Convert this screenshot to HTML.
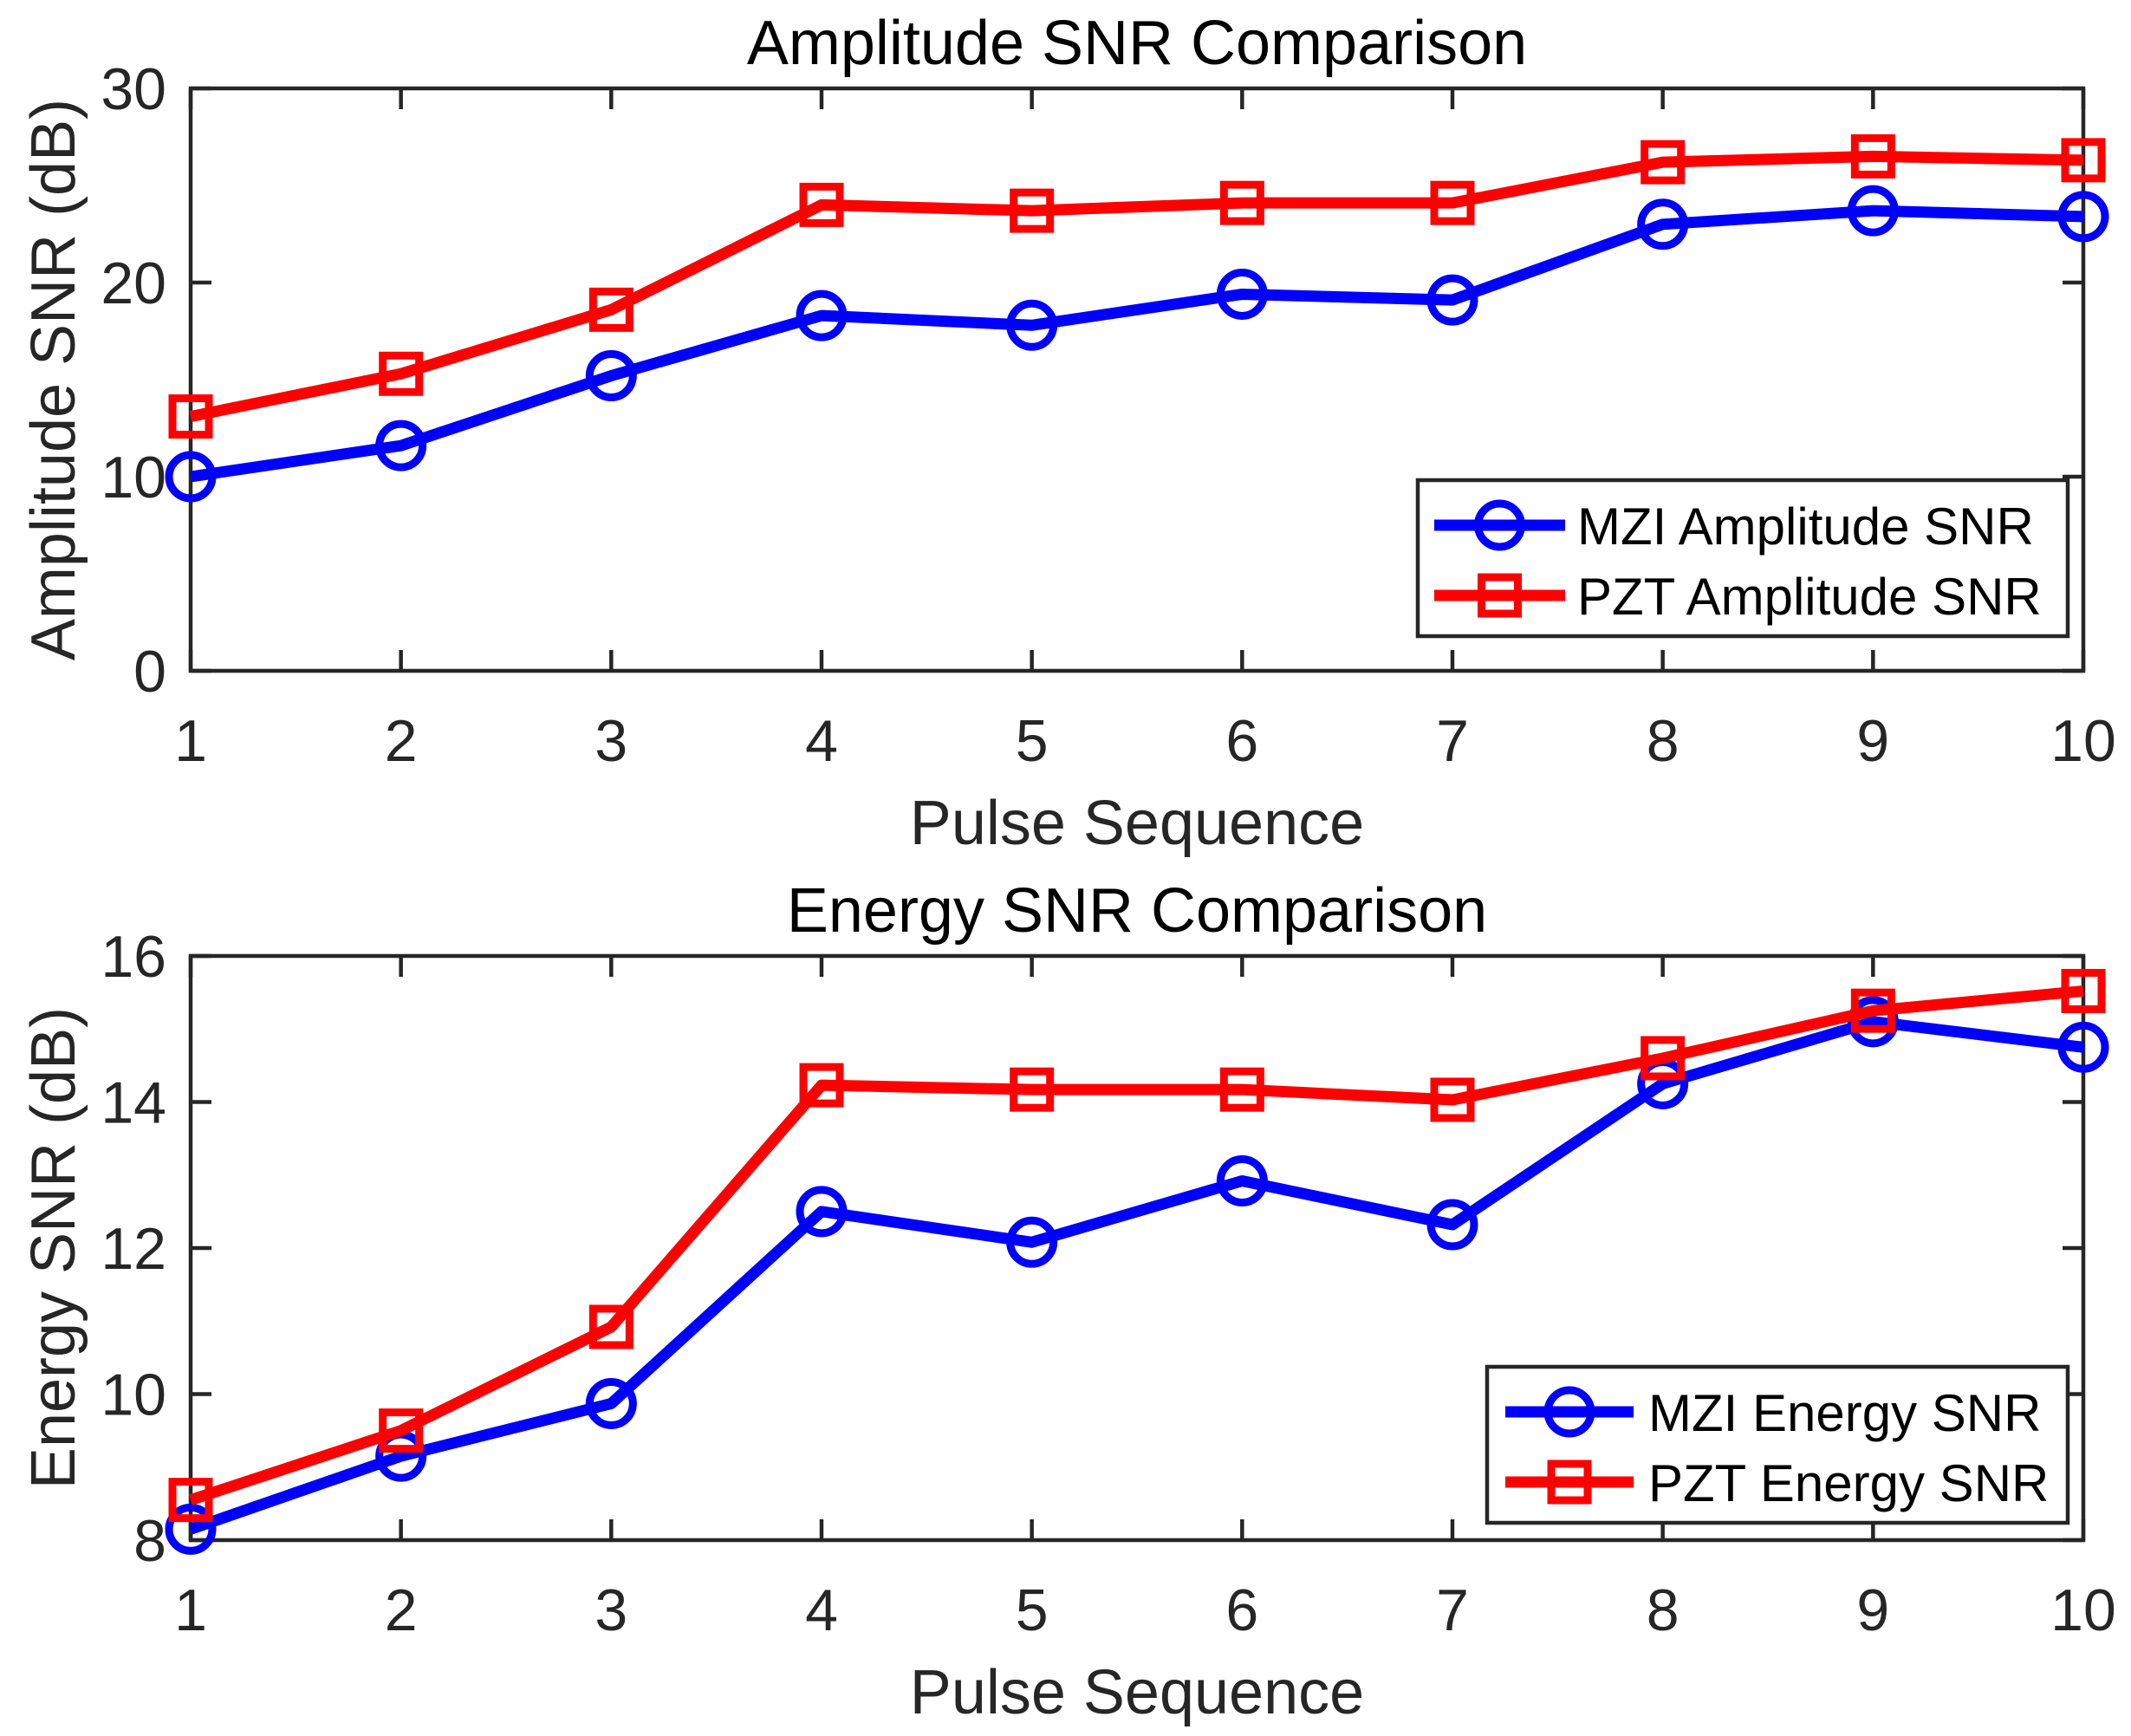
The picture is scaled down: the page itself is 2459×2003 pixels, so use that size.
<!DOCTYPE html>
<html><head><meta charset="utf-8"><style>
html,body{margin:0;padding:0;background:#fff;}
svg{display:block;font-family:"Liberation Sans",sans-serif;}
</style></head><body>
<svg id="chart" width="2459" height="2003" viewBox="0 0 2459 2003" xmlns="http://www.w3.org/2000/svg"></svg>
<script>
const categories = [1,2,3,4,5,6,7,8,9,10];
const ampMZI = [10.0, 11.6, 15.2, 18.3, 17.8, 19.4, 19.1, 23.0, 23.7, 23.4];
const ampPZT = [13.1, 15.3, 18.6, 24.0, 23.7, 24.1, 24.1, 26.2, 26.5, 26.3];
const engMZI = [8.15, 9.15, 9.87, 12.5, 12.08, 12.92, 12.32, 14.25, 15.1, 14.75];
const engPZT = [8.55, 9.5, 10.92, 14.23, 14.17, 14.17, 14.03, 14.6, 15.25, 15.52];
const ampTicks = [0, 10, 20, 30];
const engTicks = [8, 10, 12, 14, 16];

const NS = "http://www.w3.org/2000/svg";
const svg = document.getElementById('chart');
function mk(tag, attrs, parent){
  const e = document.createElementNS(NS, tag);
  for (const k in attrs) e.setAttribute(k, attrs[k]);
  (parent||svg).appendChild(e);
  return e;
}
function panel(cfg){
  const g = mk('g', {});
  
  
  const L=220, R=2404, T=cfg.top, B=cfg.bottom;
  const xs = v => L + (v-1)/(categories.length-1)*(R-L);
  const ys = v => B - (v-cfg.ymin)/(cfg.ymax-cfg.ymin)*(B-T);
  const box = mk('rect', {x:L, y:T, width:R-L, height:B-T, fill:'none', stroke:'#262626', 'stroke-width':4.5}, g);
  
  
  categories.forEach(c=>{
    const x = xs(c);
    mk('line', {x1:x, y1:B, x2:x, y2:B-24, stroke:'#262626','stroke-width':4.5}, g);
    mk('line', {x1:x, y1:T, x2:x, y2:T+24, stroke:'#262626','stroke-width':4.5}, g);
    const t = mk('text', {x:x, y:B+104, 'font-size':68, fill:'#262626', 'text-anchor':'middle'}, g);
    t.textContent = c;
    
    
  });
  cfg.ticks.forEach(v=>{
    const y = ys(v);
    mk('line', {x1:L, y1:y, x2:L+24, y2:y, stroke:'#262626','stroke-width':4.5}, g);
    mk('line', {x1:R, y1:y, x2:R-24, y2:y, stroke:'#262626','stroke-width':4.5}, g);
    const t = mk('text', {x:L-28, y:y+24, 'font-size':68, fill:'#262626', 'text-anchor':'end'}, g);
    t.textContent = v;
    
    
  });
  const title = mk('text', {x:(L+R)/2, y:T-28, 'font-size':72, fill:'#000', 'text-anchor':'middle'}, g);
  title.textContent = cfg.title;
  
  
  const xl = mk('text', {x:(L+R)/2, y:B+200, 'font-size':72, fill:'#262626', 'text-anchor':'middle'}, g);
  xl.textContent = 'Pulse Sequence';
  
  
  const cy=(T+B)/2;
  const yl = mk('text', {x:86, y:cy, 'font-size':72, fill:'#262626', 'text-anchor':'middle', transform:`rotate(-90 86 ${cy})`}, g);
  yl.textContent = cfg.ylabel;
  
  
  function series(vals, color, marker, nm){
    const sg = mk('g', {}, g);
    
    
    const pts = vals.map((v,i)=>xs(categories[i])+','+ys(v)).join(' ');
    const pl = mk('polyline', {points:pts, fill:'none', stroke:color, 'stroke-width':13, 'stroke-linejoin':'round'}, sg);
    
    
    vals.forEach((v,i)=>{
      const x=xs(categories[i]), y=ys(v);
      let m;
      if (marker==='o') m = mk('circle', {cx:x, cy:y, r:25, fill:'none', stroke:color, 'stroke-width':9}, sg);
      else m = mk('rect', {x:x-21, y:y-21, width:42, height:42, fill:'none', stroke:color, 'stroke-width':9}, sg);
      
      
    });
  }
  series(cfg.s1, '#0000ff', 'o', cfg.n1.toLowerCase().replace(/ /g,'-'));
  series(cfg.s2, '#ff0000', 's', cfg.n2.toLowerCase().replace(/ /g,'-'));
  const lg = mk('g', {}, g);
  
  
  const lb = cfg.leg;
  mk('rect', {x:lb.x, y:lb.y, width:lb.w, height:lb.h, fill:'#fff', stroke:'#262626', 'stroke-width':4.5}, lg);
  [[cfg.n1,'#0000ff','o'],[cfg.n2,'#ff0000','s']].forEach((e,i)=>{
    const ry = lb.y + 52 + i*81;
    const eg = mk('g', {}, lg);
    
    
    mk('line', {x1:lb.lx1, y1:ry, x2:lb.lx2, y2:ry, stroke:e[1], 'stroke-width':13}, eg);
    const mx=(lb.lx1+lb.lx2)/2;
    if (e[2]==='o') mk('circle', {cx:mx, cy:ry, r:25, fill:'none', stroke:e[1], 'stroke-width':9}, eg);
    else mk('rect', {x:mx-21, y:ry-21, width:42, height:42, fill:'none', stroke:e[1], 'stroke-width':9}, eg);
    const t = mk('text', {x:lb.tx, y:ry+22, 'font-size':60, fill:'#000'}, eg);
    t.textContent = e[0];
  });
}
panel({name:'amplitude-snr-panel', top:102, bottom:774, ymin:0, ymax:30, ticks:ampTicks,
  title:'Amplitude SNR Comparison', ylabel:'Amplitude SNR (dB)', s1:ampMZI, s2:ampPZT,
  n1:'MZI Amplitude SNR', n2:'PZT Amplitude SNR',
  leg:{x:1636, y:554, w:750, h:180, lx1:1655, lx2:1806, tx:1820}});
panel({name:'energy-snr-panel', top:1103, bottom:1777, ymin:8, ymax:16, ticks:engTicks,
  title:'Energy SNR Comparison', ylabel:'Energy SNR (dB)', s1:engMZI, s2:engPZT,
  n1:'MZI Energy SNR', n2:'PZT Energy SNR',
  leg:{x:1716, y:1577, w:670, h:180, lx1:1737, lx2:1885, tx:1902}});
</script>
</body></html>
